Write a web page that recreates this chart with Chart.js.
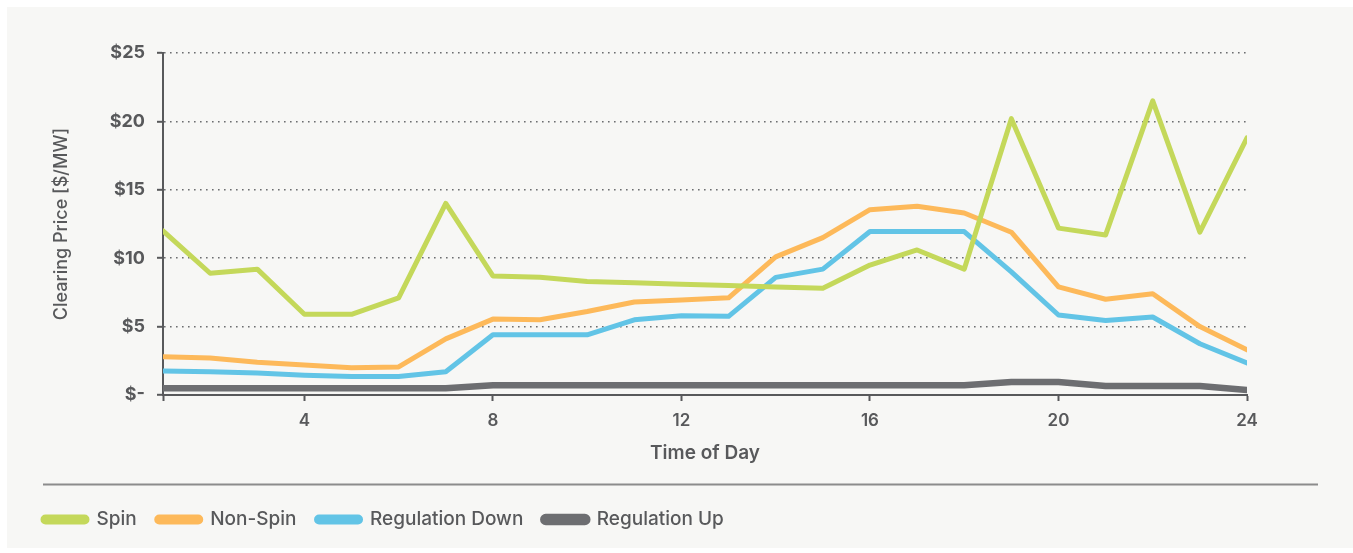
<!DOCTYPE html>
<html>
<head>
<meta charset="utf-8">
<script src="https://cdn.jsdelivr.net/npm/chart.js@4/dist/chart.umd.min.js"></script>
<style>
  html, body { margin: 0; padding: 0; background: #ffffff; }
  #wrap { width: 1353px; height: 553px; position: relative; }
</style>
</head>
<body>
<div id="wrap"><canvas id="chart" width="1353" height="553"></canvas></div>
<script>
// Hour of day
const hours = [1,2,3,4,5,6,7,8,9,10,11,12,13,14,15,16,17,18,19,20,21,22,23,24];

// Clearing prices, $/MW
const spin = [12.0, 8.9, 9.2, 5.9, 5.9, 7.1, 14.0, 8.7, 8.6, 8.3, 8.2, 8.1, 8.0, 7.9, 7.8, 9.5, 10.6, 9.2, 20.2, 12.2, 11.7, 21.5, 11.9, 18.8];
const nonSpin = [2.8, 2.7, 2.4, 2.2, 2.0, 2.05, 4.1, 5.55, 5.5, 6.1, 6.8, 6.95, 7.1, 10.1, 11.5, 13.55, 13.8, 13.3, 11.9, 7.9, 7.0, 7.4, 5.0, 3.3];
const regDown = [1.75, 1.7, 1.6, 1.45, 1.35, 1.35, 1.7, 4.4, 4.4, 4.4, 5.5, 5.8, 5.75, 8.6, 9.2, 11.95, 11.95, 11.95, 9.0, 5.85, 5.45, 5.7, 3.75, 2.35];
const regUp = [0.5, 0.5, 0.5, 0.5, 0.5, 0.5, 0.5, 0.72, 0.72, 0.72, 0.72, 0.72, 0.72, 0.72, 0.72, 0.72, 0.72, 0.72, 0.95, 0.95, 0.66, 0.66, 0.66, 0.37];

// Axis ticks
const xTickValues = [1, 4, 8, 12, 16, 20, 24];
const yTickValues = [0, 5, 10, 15, 20, 25];

const seriesNames = ['Spin', 'Non-Spin', 'Regulation Down', 'Regulation Up'];
const seriesColors = ['#c4d85a', '#fdb95a', '#62c4e6', '#6d6e71'];
const seriesWidths = [5, 5, 5, 6.5];

const TEXT = '#58595b';
const FONT = 'Inter, "Open Sans", sans-serif';

const panelBackground = {
  id: 'panelBackground',
  beforeDraw(chart) {
    const ctx = chart.ctx;
    ctx.save();
    ctx.fillStyle = '#ffffff';
    ctx.fillRect(0, 0, chart.width, chart.height);
    ctx.fillStyle = '#f7f7f5';
    ctx.fillRect(7, 7, chart.width - 7, chart.height - 12);
    ctx.restore();
  }
};

// Horizontal rule separating the legend from the plot
const legendRule = {
  id: 'legendRule',
  afterDraw(chart) {
    const lg = chart.legend;
    if (!lg) return;
    const ctx = chart.ctx;
    ctx.save();
    ctx.strokeStyle = '#8c8c8c';
    ctx.lineWidth = 2;
    ctx.beginPath();
    ctx.moveTo(43, lg.top - 5.5);
    ctx.lineTo(1318, lg.top - 5.5);
    ctx.stroke();
    ctx.restore();
  }
};

const datasets = [spin, nonSpin, regDown, regUp].map((vals, i) => ({
  label: seriesNames[i],
  data: vals,
  borderColor: seriesColors[i],
  backgroundColor: seriesColors[i],
  borderWidth: seriesWidths[i],
  pointRadius: 0,
  pointHoverRadius: 0,
  tension: 0,
  borderJoinStyle: 'round',
  borderCapStyle: 'round',
  fill: false
}));

new Chart(document.getElementById('chart'), {
  type: 'line',
  data: { labels: hours, datasets },
  plugins: [panelBackground, legendRule],
  options: {
    responsive: false,
    animation: false,
    layout: { padding: { top: 53, left: 23, right: 106, bottom: 14 } },
    plugins: {
      tooltip: { enabled: false },
      legend: {
        position: 'bottom',
        align: 'start',
        labels: {
          boxWidth: 44,
          boxHeight: 5,
          useBorderRadius: true,
          borderRadius: 2.5,
          padding: 20,
          color: TEXT,
          font: { family: FONT, size: 19, weight: '500' }
        }
      }
    },
    scales: {
      x: {
        type: 'linear',
        min: 1,
        max: 24,
        afterBuildTicks(scale) {
          scale.ticks = xTickValues.map(v => ({ value: v }));
        },
        afterFit(scale) { scale.height = 95; },
        ticks: {
          autoSkip: false,
          maxRotation: 0,
          padding: 10,
          color: TEXT,
          font: { family: FONT, size: 17, weight: '600' },
          callback: v => (v === 1 ? '' : String(v))
        },
        grid: {
          drawOnChartArea: false,
          drawTicks: true,
          tickLength: 6,
          tickColor: TEXT,
          tickWidth: 2
        },
        border: { color: TEXT, width: 2 },
        title: {
          display: true,
          text: 'Time of Day',
          color: TEXT,
          font: { family: FONT, size: 19, weight: '600' },
          padding: { top: 0, bottom: 25 }
        }
      },
      y: {
        min: 0,
        max: 25,
        afterBuildTicks(scale) {
          scale.ticks = yTickValues.map(v => ({ value: v }));
        },
        afterFit(scale) { scale.width = 140; },
        ticks: {
          padding: 12,
          color: TEXT,
          font: { family: FONT, size: 18, weight: '700' },
          callback: v => (v === 0 ? '$-' : '$' + v)
        },
        grid: {
          drawTicks: true,
          tickLength: 6,
          color: '#6d6e71',
          lineWidth: 1.6,
          tickBorderDash: [],
          tickColor: TEXT,
          tickWidth: 2
        },
        border: { color: TEXT, width: 2, dash: [1.6, 4.4] },
        title: {
          display: true,
          text: 'Clearing Price [$/MW]',
          color: TEXT,
          font: { family: FONT, size: 18, weight: '500' },
          padding: { top: 28.2, bottom: 0 }
        }
      }
    }
  }
});
</script>
</body>
</html>
